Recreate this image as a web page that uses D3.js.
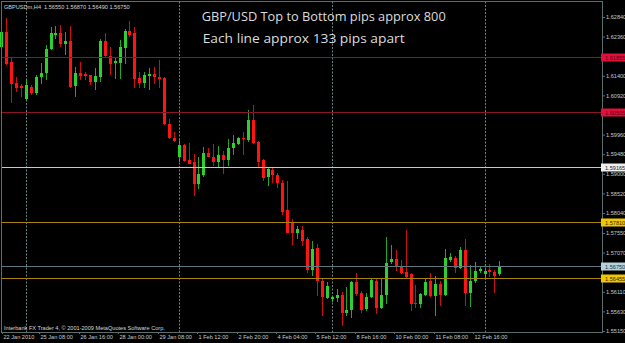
<!DOCTYPE html>
<html>
<head>
<meta charset="utf-8">
<script src="https://cdn.jsdelivr.net/npm/d3@7"></script>
<style>
  html, body { margin: 0; padding: 0; background: #000; }
  svg { display: block; }
</style>
</head>
<body>
<svg id="chart" width="625" height="343"></svg>
<script>
// GBPUSDm H4 bars
const opens = [
  1.6211, 1.6248, 1.6174, 1.6123, 1.6114, 1.6084, 1.6113, 1.6098, 1.6136, 1.6146,
  1.6205, 1.6241, 1.6244, 1.6218, 1.6224, 1.6114, 1.6147, 1.6144, 1.6141, 1.6124,
  1.6136, 1.6225, 1.6188, 1.6172, 1.6172, 1.6209, 1.6250, 1.6244, 1.6135, 1.6123,
  1.6139, 1.6144, 1.6137, 1.6135, 1.6023, 1.5987, 1.5941, 1.5971, 1.5935, 1.5928,
  1.5874, 1.5898, 1.5951, 1.5941, 1.5928, 1.5947, 1.5934, 1.5963, 1.5974, 1.5988,
  1.5982, 1.6031, 1.5978, 1.5934, 1.5892, 1.5910, 1.5898, 1.5877, 1.5812, 1.5780,
  1.5756, 1.5763, 1.5741, 1.5665, 1.5718, 1.5638, 1.5597, 1.5594, 1.5597, 1.5603,
  1.5560, 1.5566, 1.5635, 1.5609, 1.5568, 1.5599, 1.5638, 1.5572, 1.5604, 1.5683,
  1.5691, 1.5672, 1.5660, 1.5654, 1.5584, 1.5582, 1.5603, 1.5638, 1.5601, 1.5631,
  1.5603, 1.5689, 1.5695, 1.5670, 1.5713, 1.5609, 1.5638, 1.5662, 1.5655, 1.5664,
  1.5660, 1.56550
];
const highs = [
  1.6257, 1.6281, 1.6183, 1.6137, 1.6121, 1.6133, 1.6117, 1.6141, 1.6172, 1.6215,
  1.6260, 1.6262, 1.6264, 1.6248, 1.6262, 1.6162, 1.6174, 1.6150, 1.6143, 1.6158,
  1.6229, 1.6244, 1.6211, 1.6186, 1.6227, 1.6254, 1.6274, 1.6260, 1.6150, 1.6150,
  1.6158, 1.6162, 1.6178, 1.6138, 1.6035, 1.6002, 1.5982, 1.5973, 1.5975, 1.5949,
  1.5942, 1.5965, 1.5962, 1.5973, 1.5968, 1.5955, 1.5984, 1.5994, 1.5990, 1.6002,
  1.6056, 1.6068, 1.5980, 1.5937, 1.5916, 1.5915, 1.5902, 1.5885, 1.5882, 1.5789,
  1.5772, 1.5772, 1.5746, 1.5736, 1.5728, 1.5642, 1.5634, 1.5601, 1.5618, 1.5611,
  1.5623, 1.5638, 1.5657, 1.5613, 1.5608, 1.5645, 1.5642, 1.5646, 1.5746, 1.5726,
  1.5713, 1.5689, 1.5763, 1.5658, 1.5627, 1.5609, 1.5644, 1.5658, 1.5650, 1.5638,
  1.5716, 1.5705, 1.5699, 1.5721, 1.5740, 1.5677, 1.5683, 1.5672, 1.5666, 1.5679,
  1.5664, 1.56870
];
const lows = [
  1.6203, 1.6166, 1.6073, 1.6100, 1.6088, 1.6080, 1.6094, 1.6092, 1.6121, 1.6129,
  1.6203, 1.6229, 1.6211, 1.6191, 1.6109, 1.6088, 1.6129, 1.6129, 1.6117, 1.6105,
  1.6125, 1.6183, 1.6141, 1.6133, 1.6133, 1.6170, 1.6236, 1.6109, 1.6109, 1.6109,
  1.6105, 1.6121, 1.6109, 1.6019, 1.5984, 1.5978, 1.5928, 1.5928, 1.5924, 1.5845,
  1.5863, 1.5893, 1.5940, 1.5920, 1.5916, 1.5900, 1.5918, 1.5947, 1.5971, 1.5946,
  1.5978, 1.5973, 1.5916, 1.5882, 1.5871, 1.5877, 1.5865, 1.5800, 1.5754, 1.5726,
  1.5741, 1.5724, 1.5658, 1.5650, 1.5601, 1.5552, 1.5593, 1.5587, 1.5587, 1.5527,
  1.5552, 1.5546, 1.5601, 1.5560, 1.5564, 1.5597, 1.5556, 1.5568, 1.5581, 1.5679,
  1.5661, 1.5654, 1.5646, 1.5564, 1.5571, 1.5572, 1.5601, 1.5598, 1.5552, 1.5576,
  1.5601, 1.5685, 1.5658, 1.5667, 1.5576, 1.5575, 1.5632, 1.5658, 1.5646, 1.5648,
  1.5607, 1.56490
];
const closes = [
  1.6248, 1.6170, 1.6121, 1.6111, 1.6109, 1.6117, 1.6098, 1.6137, 1.6147, 1.6205,
  1.6244, 1.6246, 1.6218, 1.6224, 1.6113, 1.6146, 1.6139, 1.6139, 1.6124, 1.6139,
  1.6225, 1.6188, 1.6169, 1.6176, 1.6211, 1.6250, 1.6241, 1.6132, 1.6123, 1.6141,
  1.6144, 1.6136, 1.6133, 1.6021, 1.5987, 1.5980, 1.5971, 1.5931, 1.5925, 1.5874,
  1.5900, 1.5952, 1.5941, 1.5928, 1.5947, 1.5934, 1.5963, 1.5976, 1.5987, 1.5984,
  1.6031, 1.5975, 1.5930, 1.5890, 1.5911, 1.5898, 1.5877, 1.5806, 1.5756, 1.5754,
  1.5765, 1.5736, 1.5664, 1.5716, 1.5638, 1.5599, 1.5626, 1.5598, 1.5604, 1.5560,
  1.5567, 1.5636, 1.5605, 1.5566, 1.5599, 1.5640, 1.5572, 1.5604, 1.5682, 1.5691,
  1.5671, 1.5658, 1.5648, 1.5582, 1.5580, 1.5605, 1.5636, 1.5601, 1.5630, 1.5603,
  1.5693, 1.5697, 1.5669, 1.5713, 1.5609, 1.5638, 1.5662, 1.5666, 1.5661, 1.5660,
  1.5650, 1.56750
];

const symbol = "GBPUSDm,H4";
const timeLabels = ["22 Jan 2010", "25 Jan 08:00", "26 Jan 16:00", "28 Jan 00:00", "29 Jan 08:00",
  "1 Feb 12:00", "2 Feb 20:00", "4 Feb 04:00", "5 Feb 12:00", "8 Feb 16:00",
  "10 Feb 00:00", "11 Feb 08:00", "12 Feb 16:00"];
const timeLabelBars = [0, 8, 16, 24, 32, 40, 48, 56, 64, 72, 80, 88, 96];
const weekSeparatorBars = [5, 36, 67, 98];
// ticks hidden behind the level boxes are left out
const priceTicks = [1.62840, 1.62360, 1.61400, 1.60920, 1.59960, 1.59480,
  1.59000, 1.58520, 1.58040, 1.57550, 1.57070, 1.56110, 1.55630, 1.55150];
const levelValues = [1.61855, 1.60505, 1.59165, 1.57810, 1.56455];
const titleLines = ["GBP/USD Top to Bottom pips approx 800", "Each line approx 133 pips apart"];
const copyright = "Interbank FX Trader 4, \u00a9 2001-2009 MetaQuotes Software Corp.";

// styles
const levelStyles = [
  { line: "#8a1428", box: "#e0103c", text: "#5a0010" },
  { line: "#8a1428", box: "#e0103c", text: "#5a0010" },
  { line: "#c8c8c8", box: "#f0f0f0", text: "#202020" },
  { line: "#a88408", box: "#f0c800", text: "#302400" },
  { line: "#a88408", box: "#f0c800", text: "#302400" },
];
const bidStyle = { line: "#5c7880", box: "#b4d4dc", text: "#203038" };
const upColor = "#2ed02e";
const downColor = "#ff1414";
const axisColor = "#5a6e6e";
const labelColor = "#c4cccc";
const smallFont = "'Liberation Sans', Arial, sans-serif";

const plot = { left: 1.5, right: 602, top: 1.5, bottom: 332 };
const bars = opens.map((o, i) => ({ i, o, h: highs[i], l: lows[i], c: closes[i] }));

const x = d3.scaleLinear()
  .domain([0, bars.length - 1])
  .range([1.2, 1.2 + (bars.length - 1) * 4.932]);

const y = d3.scaleLinear()
  .domain([1.62840, 1.55150])
  .range([17, 331]);

const svg = d3.select("#chart");

svg.append("rect")
  .attr("width", 625)
  .attr("height", 343)
  .attr("fill", "#000");

// week separators
svg.append("g")
  .selectAll("line")
  .data(weekSeparatorBars)
  .join("line")
  .attr("x1", d => Math.round(x(d)) + 0.5)
  .attr("x2", d => Math.round(x(d)) + 0.5)
  .attr("y1", plot.top)
  .attr("y2", plot.bottom)
  .attr("stroke", "#6a8484")
  .attr("stroke-dasharray", "2,1.5");

// candles
const candle = svg.append("g")
  .selectAll("g")
  .data(bars)
  .join("g")
  .attr("shape-rendering", "crispEdges");

candle.append("line")
  .attr("x1", d => Math.round(x(d.i)) + 0.5)
  .attr("x2", d => Math.round(x(d.i)) + 0.5)
  .attr("y1", d => y(d.h))
  .attr("y2", d => y(d.l))
  .attr("stroke", d => d.c >= d.o ? upColor : downColor)
  .attr("stroke-opacity", 0.8);

candle.append("rect")
  .attr("x", d => Math.round(x(d.i)) - 1)
  .attr("width", 3)
  .attr("y", d => y(Math.max(d.o, d.c)))
  .attr("height", d => Math.max(1, Math.abs(y(d.o) - y(d.c))))
  .attr("fill", d => d.c >= d.o ? upColor : downColor);

// horizontal level lines
const last = bars[bars.length - 1];
const levels = levelValues.map((v, k) => ({ v, style: levelStyles[k] }));
levels.push({ v: last.c, style: bidStyle });

svg.append("g")
  .selectAll("line")
  .data(levels)
  .join("line")
  .attr("shape-rendering", "crispEdges")
  .attr("x1", plot.left)
  .attr("x2", plot.right)
  .attr("y1", d => Math.round(y(d.v)) + 0.5)
  .attr("y2", d => Math.round(y(d.v)) + 0.5)
  .attr("stroke", d => d.style.line);

// frame
svg.append("rect")
  .attr("x", plot.left)
  .attr("y", plot.top)
  .attr("width", plot.right - plot.left)
  .attr("height", plot.bottom - plot.top)
  .attr("fill", "none")
  .attr("stroke", axisColor)
  .attr("shape-rendering", "crispEdges");

// price axis
const yAxis = svg.append("g")
  .attr("transform", `translate(${plot.right},0)`)
  .call(d3.axisRight(y)
    .tickValues(priceTicks)
    .tickFormat(d3.format(".5f"))
    .tickSize(3)
    .tickPadding(1));

yAxis.select(".domain").remove();
yAxis.selectAll("line").attr("stroke", axisColor);
yAxis.selectAll("text")
  .attr("fill", labelColor)
  .style("font-family", smallFont)
  .style("font-size", "5.6px");

// level price boxes on the axis
const levelLabel = svg.append("g")
  .selectAll("g")
  .data(levels)
  .join("g")
  .attr("transform", d => `translate(${plot.right - 1},${Math.round(y(d.v)) + 0.5})`);

levelLabel.append("rect")
  .attr("y", -4)
  .attr("width", 24)
  .attr("height", 8)
  .attr("fill", d => d.style.box);

levelLabel.append("text")
  .attr("x", 4)
  .attr("dy", "0.36em")
  .attr("fill", d => d.style.text)
  .style("font-family", smallFont)
  .style("font-size", "5.6px")
  .text(d => d3.format(".5f")(d.v));

// time axis
const xt = d3.scaleLinear()
  .domain(x.domain())
  .range(x.range().map(v => v - 1.4));

const xAxis = svg.append("g")
  .attr("transform", `translate(0,${plot.bottom})`)
  .call(d3.axisBottom(xt)
    .tickValues(timeLabelBars)
    .tickFormat((d, i) => timeLabels[i])
    .tickSize(2)
    .tickPadding(1));

xAxis.select(".domain").remove();
xAxis.selectAll(".tick")
  .attr("transform", d => `translate(${Math.max(2, Math.round(xt(d))) + 0.5},0)`);
xAxis.selectAll("line").attr("stroke", axisColor);
xAxis.selectAll("text")
  .attr("text-anchor", "start")
  .attr("x", 1)
  .attr("fill", labelColor)
  .style("font-family", smallFont)
  .style("font-size", "5.6px");

// header and footer
const fmt = d3.format(".5f");
svg.append("text")
  .attr("x", 4)
  .attr("y", 8.8)
  .attr("fill", "#d4d8d8")
  .style("font-family", smallFont)
  .style("font-size", "5.6px")
  .style("white-space", "pre")
  .text(`${symbol}  ${fmt(last.o)} ${fmt(last.h)} ${fmt(last.l)} ${fmt(last.c)}`);

svg.append("text")
  .attr("x", 4)
  .attr("y", 329.7)
  .attr("fill", "#d4d8d8")
  .style("font-family", smallFont)
  .style("font-size", "5.6px")
  .text(copyright);

// title text
svg.append("g")
  .selectAll("text")
  .data(titleLines)
  .join("text")
  .attr("x", (d, i) => [201.7, 202.7][i])
  .attr("y", (d, i) => [20.7, 43.3][i])
  .attr("textLength", (d, i) => [244, 202][i])
  .attr("lengthAdjust", "spacingAndGlyphs")
  .attr("fill", "#dcdcdc")
  .style("font-family", "'Open Sans', sans-serif")
  .style("font-size", "12.5px")
  .text(d => d);
</script>
</body>
</html>
